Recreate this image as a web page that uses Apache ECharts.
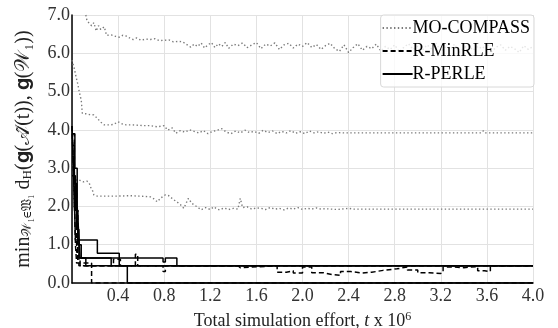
<!DOCTYPE html>
<html>
<head>
<meta charset="utf-8">
<script src="https://cdn.jsdelivr.net/npm/echarts@6/dist/echarts.min.js"></script>
<style>
  html, body { margin: 0; padding: 0; background: #fff; }
  #chart { width: 558px; height: 328px; }
</style>
</head>
<body>
<div id="chart"></div>
<script>
// Hausdorff distance to the optimal front vs simulation effort
const xTicks = [0, 0.4, 0.8, 1.2, 1.6, 2.0, 2.4, 2.8, 3.2, 3.6, 4.0];
const yTicks = [0, 1, 2, 3, 4, 5, 6, 7];

// MO-COMPASS: three runs (dotted grey)
const compassTop = [
  [0.12, 7.0], [0.13, 6.85], [0.15, 6.78], [0.17, 6.72], [0.19, 6.80], [0.21, 6.58], [0.23, 6.72],
  [0.25, 6.62], [0.28, 6.69], [0.30, 6.47], [0.34, 6.48], [0.38, 6.44], [0.41, 6.42], [0.44, 6.47],
  [0.47, 6.45], [0.50, 6.40], [0.53, 6.36], [0.56, 6.40], [0.60, 6.34], [0.64, 6.37], [0.68, 6.36],
  [0.72, 6.38], [0.76, 6.33], [0.80, 6.34], [0.84, 6.35], [0.88, 6.30], [0.92, 6.31], [0.96, 6.30],
  [1.00, 6.22], [1.03, 6.16], [1.06, 6.24], [1.09, 6.18], [1.12, 6.27], [1.15, 6.14], [1.18, 6.22],
  [1.21, 6.28], [1.24, 6.15], [1.27, 6.25], [1.30, 6.18], [1.33, 6.28], [1.36, 6.13], [1.40, 6.24],
  [1.44, 6.20], [1.48, 6.27], [1.52, 6.15], [1.56, 6.22], [1.60, 6.28], [1.64, 6.12], [1.68, 6.24],
  [1.72, 6.19], [1.76, 6.27], [1.80, 6.10], [1.84, 6.22], [1.88, 6.26], [1.92, 6.14], [1.96, 6.24],
  [2.00, 6.18], [2.04, 6.28], [2.08, 6.15], [2.12, 6.23], [2.16, 6.10], [2.20, 6.20], [2.24, 6.26],
  [2.28, 6.12], [2.32, 6.05], [2.36, 6.22], [2.40, 6.02], [2.44, 6.15], [2.48, 6.25], [2.52, 6.08],
  [2.56, 6.18], [2.60, 6.12], [2.64, 6.24], [2.68, 6.06], [2.72, 6.18], [2.76, 6.10], [2.80, 6.22],
  [2.84, 6.04], [2.88, 6.16], [2.92, 6.25], [2.96, 6.10], [3.00, 6.18], [3.04, 6.08], [3.08, 6.22],
  [3.12, 6.12], [3.16, 6.26], [3.20, 6.05], [3.24, 6.16], [3.28, 6.10], [3.32, 6.24], [3.36, 6.02],
  [3.40, 6.15], [3.44, 6.20], [3.48, 6.08], [3.52, 6.18], [3.56, 6.12], [3.60, 6.26], [3.64, 6.04],
  [3.68, 6.16], [3.72, 6.22], [3.76, 6.08], [3.80, 6.18], [3.84, 6.12], [3.88, 6.02], [3.92, 6.20],
  [3.96, 6.10], [4.00, 6.18]
];
const compassMid = [
  [0, 5.82], [0.02, 5.6], [0.035, 5.39], [0.05, 5.2], [0.06, 5.04], [0.07, 4.9], [0.08, 4.78],
  [0.09, 4.43], [0.12, 4.42], [0.15, 4.40], [0.19, 4.39], [0.22, 4.30], [0.25, 4.2], [0.28, 4.13],
  [0.32, 4.13], [0.36, 4.14], [0.40, 4.21], [0.44, 4.15], [0.47, 4.13], [0.52, 4.13], [0.58, 4.12],
  [0.62, 4.11], [0.68, 4.11], [0.74, 4.08], [0.80, 4.11], [0.83, 3.99], [0.87, 4.05], [0.90, 3.91],
  [0.94, 3.98], [0.98, 3.94], [1.02, 4.0], [1.06, 3.96], [1.10, 3.92], [1.14, 3.98], [1.18, 3.90],
  [1.22, 3.96], [1.26, 3.99], [1.30, 4.03], [1.34, 3.94], [1.38, 3.90], [1.42, 3.97], [1.46, 3.92],
  [1.50, 3.99], [1.54, 3.93], [1.58, 3.96], [1.62, 3.91], [1.66, 3.99], [1.70, 3.93], [1.74, 3.97],
  [1.78, 3.90], [1.82, 3.96], [1.86, 3.92], [1.90, 3.98], [1.94, 3.91], [1.98, 3.95], [2.02, 3.90],
  [2.06, 3.97], [2.10, 3.92], [2.14, 3.95], [2.18, 3.91], [2.22, 3.94], [2.26, 3.90], [2.30, 3.93],
  [2.35, 3.92], [2.60, 3.92], [3.00, 3.92], [3.55, 3.92], [3.57, 3.98], [3.59, 3.92], [4.00, 3.92]
];
const compassLow = [
  [0.01, 3.08], [0.02, 2.85], [0.03, 2.69], [0.06, 2.69], [0.10, 2.64], [0.13, 2.66], [0.15, 2.61],
  [0.16, 2.51], [0.18, 2.40], [0.19, 2.30], [0.22, 2.27], [0.30, 2.27], [0.40, 2.27], [0.50, 2.28],
  [0.58, 2.27], [0.64, 2.26], [0.68, 2.25], [0.71, 2.20], [0.74, 2.12], [0.77, 2.22], [0.81, 2.30],
  [0.84, 2.28], [0.88, 2.18], [0.91, 2.12], [0.94, 2.05], [0.97, 1.95], [1.01, 2.21], [1.04, 2.08],
  [1.06, 2.04], [1.09, 1.98], [1.12, 1.91], [1.16, 1.97], [1.20, 1.92], [1.23, 1.99], [1.26, 1.93],
  [1.28, 1.91], [1.32, 1.96], [1.36, 1.92], [1.40, 1.95], [1.44, 1.93], [1.46, 2.21], [1.48, 1.97],
  [1.52, 1.99], [1.56, 1.93], [1.60, 1.96], [1.64, 1.95], [1.68, 1.92], [1.72, 1.97], [1.76, 1.93],
  [1.80, 1.95], [1.84, 1.91], [1.88, 1.96], [1.92, 1.93], [1.96, 1.97], [2.00, 1.92], [2.04, 1.95],
  [2.08, 1.93], [2.12, 1.96], [2.16, 1.93], [2.20, 1.94], [2.30, 1.92], [2.40, 1.95], [2.44, 1.93],
  [2.90, 1.93], [2.91, 1.97], [2.92, 1.93], [3.34, 1.93], [3.35, 1.97], [3.36, 1.93], [4.00, 1.93]
];

// R-MinRLE: dashed black runs (step values)
const minrleA = [[0, 4.1], [0.015, 2.8], [0.03, 1.0], [0.04, 0.52], [0.17, 0.0], [4.0, 0.0]];
const minrleB = [
  [0, 3.9], [0.02, 2.4], [0.04, 0.8], [0.06, 0.45], [0.36, 0.62], [0.42, 0.45], [0.55, 0.75],
  [0.57, 0.45], [0.79, 0.3], [0.81, 0.45], [1.44, 0.40], [1.46, 0.45], [1.78, 0.28], [1.86, 0.32],
  [1.92, 0.26], [2.00, 0.42], [2.08, 0.27], [2.18, 0.22], [2.26, 0.2], [2.33, 0.3], [2.42, 0.26],
  [2.52, 0.28], [2.6, 0.33], [2.7, 0.37], [2.82, 0.42], [2.91, 0.34], [3.0, 0.27], [3.1, 0.25],
  [3.2, 0.28], [3.22, 0.42], [3.3, 0.4], [3.4, 0.43], [3.52, 0.32], [3.58, 0.3], [3.63, 0.45], [4.0, 0.45]
];
const minrleC = [[0, 3.3], [0.02, 1.9], [0.05, 0.6], [0.07, 0.45], [4.0, 0.45]];

// R-PERLE: solid black runs (step values)
const perleA = [[0, 4.1], [0.01, 3.2], [0.02, 2.2], [0.03, 1.12], [0.22, 0.78], [0.41, 0.45], [4.0, 0.45]];
const perleB = [[0, 3.6], [0.02, 2.6], [0.04, 1.4], [0.06, 0.65], [0.79, 0.55], [0.81, 0.65], [0.91, 0.45], [4.0, 0.45]];
const perleC = [[0, 2.8], [0.03, 1.9], [0.05, 1.0], [0.08, 0.65], [0.34, 0.45], [0.48, 0.0], [4.0, 0.0]];
const perleD = [[0, 3.9], [0.025, 3.0], [0.045, 2.0], [0.06, 1.2], [0.07, 0.65], [0.12, 0.45], [4.0, 0.45]];

const FONT = 'Liberation Serif';

function stepSeries(name, data, type) {
  return {
    name,
    type: 'line',
    data,
    step: 'end',
    symbol: 'none',
    silent: true,
    itemStyle: { color: '#000' },
    lineStyle: { color: '#000', width: 1.5, type }
  };
}

function compassSeries(data) {
  return {
    name: 'MO-COMPASS',
    type: 'line',
    data,
    symbol: 'none',
    silent: true,
    itemStyle: { color: '#7a7a7a' },
    lineStyle: { color: '#7a7a7a', width: 1.4, type: [1.4, 2.4] }
  };
}

const chart = echarts.init(document.getElementById('chart'), null, { renderer: 'canvas' });

chart.setOption({
  animation: false,
  backgroundColor: '#fff',
  grid: { left: 72, right: 25, top: 15, bottom: 45, outerBoundsMode: 'none', containLabel: false },
  legend: {
    data: ['MO-COMPASS', 'R-MinRLE', 'R-PERLE'],
    right: 24,
    top: 15,
    orient: 'vertical',
    itemWidth: 30,
    itemHeight: 10,
    itemGap: 5,
    padding: [4, 4, 4, 1],
    itemStyle: { opacity: 0 },
    backgroundColor: 'rgba(255,255,255,0.8)',
    borderColor: '#d8d8d8',
    borderWidth: 1,
    borderRadius: 3,
    textStyle: { fontFamily: FONT, fontSize: 18, color: '#000', padding: [0, 0, 0, -5] }
  },
  xAxis: {
    type: 'value',
    min: xTicks[0],
    max: xTicks[xTicks.length - 1],
    interval: 0.4,
    name: 'Total simulation effort, {i|t} x 10{sup|6}',
    nameLocation: 'middle',
    nameGap: 28,
    nameTextStyle: {
      fontFamily: FONT, fontSize: 18, color: '#222',
      rich: {
        i: { fontFamily: FONT, fontStyle: 'italic', fontSize: 18, color: '#222' },
        sup: { fontFamily: FONT, fontSize: 12, color: '#222', padding: [0, 0, 8, 0] }
      }
    },
    axisLine: { lineStyle: { color: '#000', width: 1.5 } },
    axisTick: { show: false },
    axisLabel: {
      fontFamily: FONT, fontSize: 18, color: '#333', margin: 4,
      formatter: v => (v === 0 ? '' : v.toFixed(1))
    },
    splitLine: { lineStyle: { color: '#e2e2e2', width: 1 } }
  },
  yAxis: {
    type: 'value',
    min: yTicks[0],
    max: yTicks[yTicks.length - 1],
    interval: 1,
    name: '{n|min}{s|𝒲₁∈𝔚₁}{n| d}{s|H}{n|(𝐠(𝒜̂(t)), 𝐠(𝒲₁))}',
    nameLocation: 'middle',
    nameGap: 38,
    nameTextStyle: {
      rich: {
        n: { fontFamily: FONT, fontSize: 20, color: '#222' },
        s: { fontFamily: FONT, fontSize: 13, color: '#222', padding: [0, 0, -7, 0] }
      }
    },
    axisLine: { show: true, lineStyle: { color: '#000', width: 1.5 } },
    axisTick: { show: false },
    axisLabel: {
      fontFamily: FONT, fontSize: 18, color: '#333', margin: 2,
      formatter: v => v.toFixed(1)
    },
    splitLine: { lineStyle: { color: '#e2e2e2', width: 1 } }
  },
  series: [
    compassSeries(compassTop),
    compassSeries(compassMid),
    compassSeries(compassLow),
    stepSeries('R-MinRLE', minrleA, [5, 3]),
    stepSeries('R-MinRLE', minrleB, [5, 3]),
    stepSeries('R-MinRLE', minrleC, [5, 3]),
    stepSeries('R-PERLE', perleA, 'solid'),
    stepSeries('R-PERLE', perleB, 'solid'),
    stepSeries('R-PERLE', perleC, 'solid'),
    stepSeries('R-PERLE', perleD, 'solid')
  ]
});
</script>
</body>
</html>
